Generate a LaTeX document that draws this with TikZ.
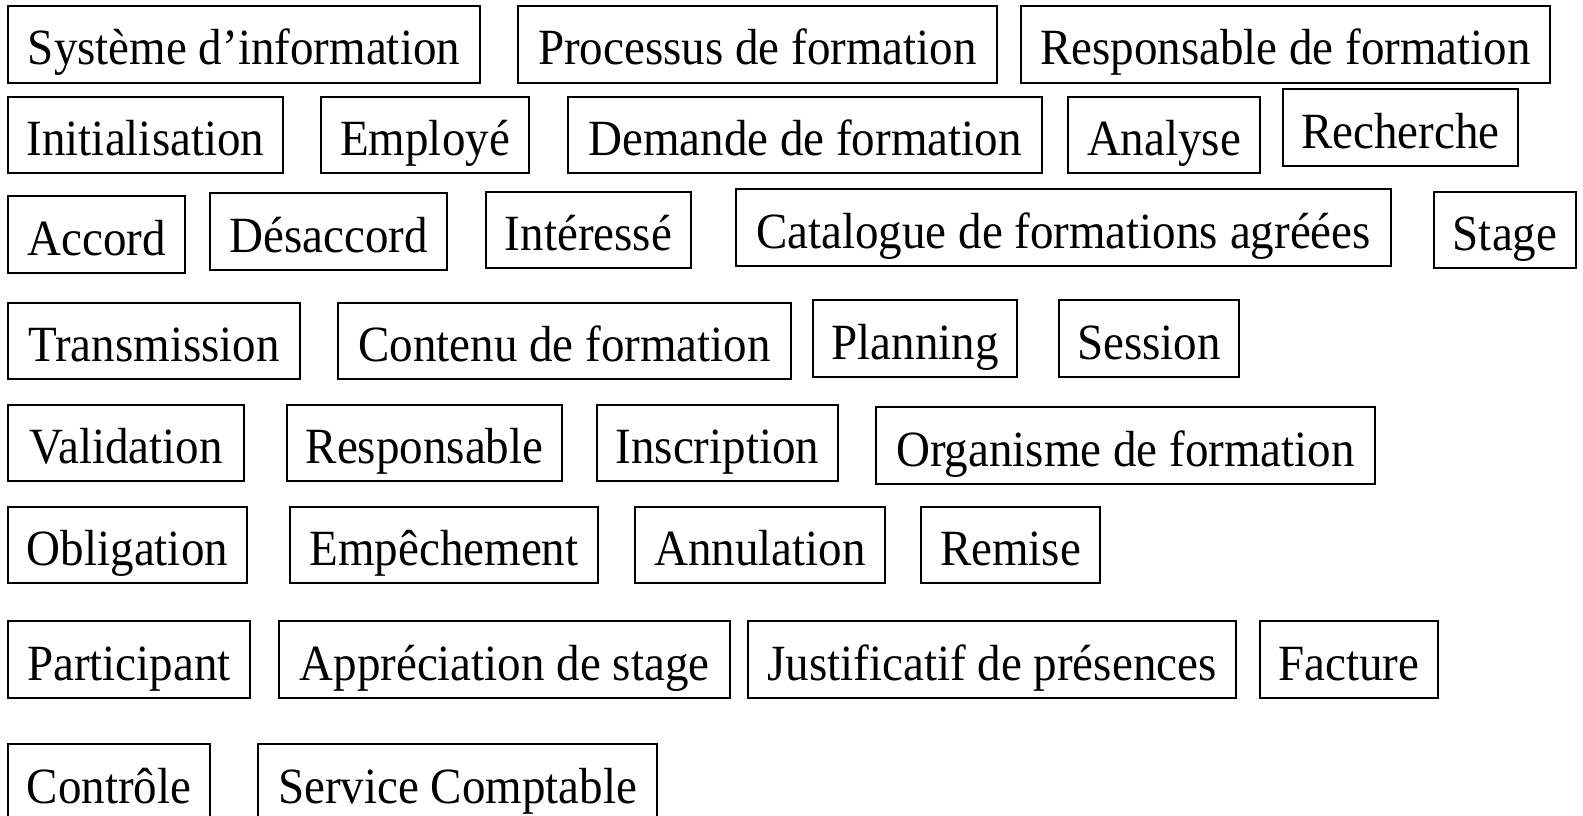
\documentclass[tikz,border=0pt]{standalone}
\usepackage{fontspec}
\usepackage{graphicx}
\setmainfont{Liberation Serif}
\begin{document}
\begin{tikzpicture}[x=1pt,y=1pt,
  wordbox/.style={draw=black, line width=1.6pt, inner sep=0pt,
    font=\fontsize{47}{56}\selectfont, text height=41pt, text depth=0pt,
    anchor=center}]
% box given by left, right, top, bottom edges (y measured downward);
% the words are set slightly tall
\newcommand\wbox[6]{%
  \node[wordbox, minimum width={(#3-#2)*1pt}, minimum height={(#5-#4)*1pt}]
    (#1) at ({(#2+#3)/2}, {-(#4+#5)/2}) {\scalebox{1}[1.08]{#6}};}
\useasboundingbox (0,0) rectangle (1583,-816);
\fill[white] (0,0) rectangle (1583,-816);
% row 1
\wbox{sys}{8}{480}{6}{83}{Système d’information}
\wbox{proc}{518}{997}{6}{83}{Processus de formation}
\wbox{respf}{1021}{1550}{6}{83}{Responsable de formation}
% row 2
\wbox{init}{8}{283}{97}{173}{Initialisation}
\wbox{empl}{321}{529}{97}{173}{Employé}
\wbox{dem}{568}{1042}{97}{173}{Demande de formation}
\wbox{anal}{1068}{1260}{97}{173}{Analyse}
\wbox{rech}{1283}{1518}{89}{166}{Recherche}
% row 3
\wbox{acc}{8}{185}{196}{273}{Accord}
\wbox{desacc}{210}{447}{193}{270}{Désaccord}
\wbox{inter}{486}{691}{192}{268}{Intéressé}
\wbox{cat}{736}{1391}{189}{266}{Catalogue de formations agréées}
\wbox{stage}{1434}{1576}{192}{268}{Stage}
% row 4
\wbox{trans}{8}{300}{303}{379}{Transmission}
\wbox{cont}{338}{791}{303}{379}{Contenu de formation}
\wbox{plan}{813}{1017}{300}{377}{Planning}
\wbox{sess}{1059}{1239}{300}{377}{Session}
% row 5
\wbox{valid}{8}{244}{405}{481}{Validation}
\wbox{resp}{287}{562}{405}{481}{Responsable}
\wbox{insc}{597}{838}{405}{481}{Inscription}
\wbox{org}{876}{1375}{407}{484}{Organisme de formation}
% row 6
\wbox{oblig}{8}{247}{507}{583}{Obligation}
\wbox{emp}{290}{598}{507}{583}{Empêchement}
\wbox{annul}{635}{885}{507}{583}{Annulation}
\wbox{remise}{921}{1100}{507}{583}{Remise}
% row 7
\wbox{part}{8}{250}{621}{698}{Participant}
\wbox{appr}{279}{730}{621}{698}{Appréciation de stage}
\wbox{just}{748}{1236}{621}{698}{Justificatif de présences}
\wbox{fact}{1260}{1438}{621}{698}{Facture}
% row 8
\wbox{ctrl}{8}{210}{744}{821}{Contrôle}
\wbox{serv}{258}{657}{744}{821}{Service Comptable}
\end{tikzpicture}
\end{document}
